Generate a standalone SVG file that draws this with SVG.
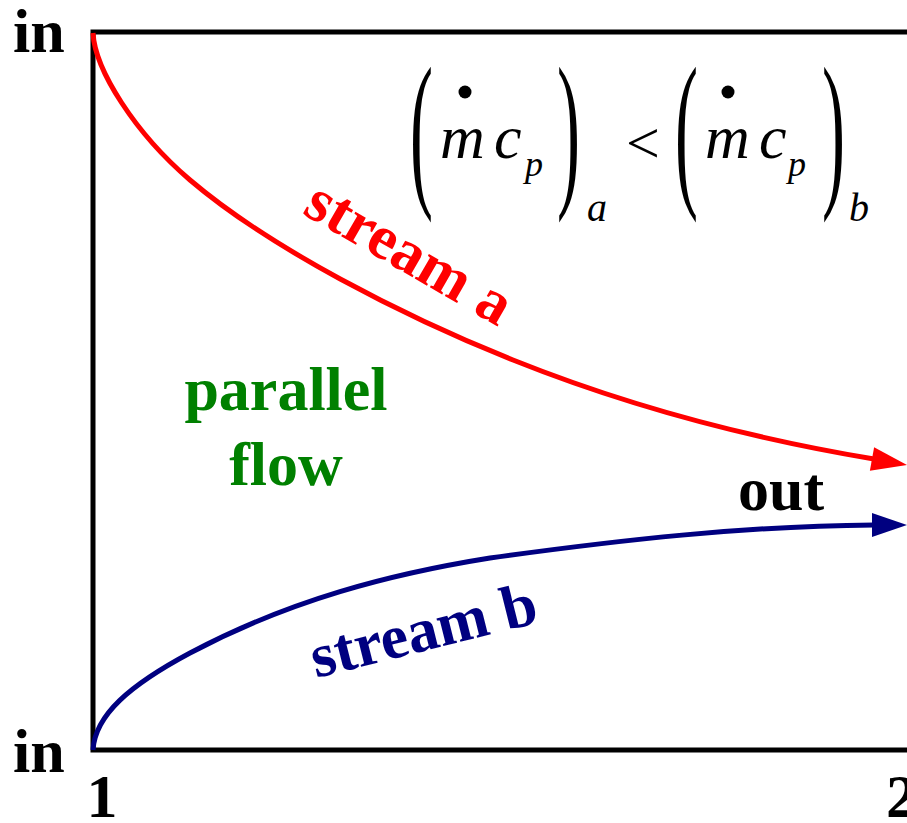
<svg xmlns="http://www.w3.org/2000/svg" width="907" height="823" viewBox="0 0 907 823">
<style>
.lbl{font-family:"Liberation Serif","Times New Roman",serif;font-weight:bold;font-size:62px}
.math{font-family:"Liberation Serif","Times New Roman",serif;font-style:italic}
.up{font-family:"Liberation Serif","Times New Roman",serif}
.frame{fill:none;stroke:#000;stroke-width:5;stroke-linecap:square}
.ca{fill:none;stroke:#ff0000;stroke-width:5}
.cb{fill:none;stroke:#000080;stroke-width:5}
</style>
<rect width="907" height="823" fill="#fff"/>
<g id="axes">
<path class="frame" d="M93,32 L93,750 L910,750 M93,32 L910,32"/>
</g>
<g id="connectors">
<path class="ca" d="M93,33 C95,70 135,133 190,180 C270,248 403,316 513,360 C633,408 754,439 874,459"/>
<polygon fill="#ff0000" points="874.1,447.2 907,465 869.9,470.8"/>
<path class="cb" d="M93,750 C95,715 130,685 190,653 C290,600 390,574 490,558 C620,540 744,526 874,525"/>
<polygon fill="#000080" points="872,513 907,525 872,537"/>
</g>
<g id="labels">
<text class="lbl" x="13" y="52">in</text>
<text class="lbl" x="13" y="772">in</text>
<text class="lbl" x="102" y="817" text-anchor="middle">1</text>
<text class="lbl" x="886" y="817">2</text>
<text class="lbl" x="738" y="510">out</text>
<text class="lbl" x="286" y="410" text-anchor="middle" fill="#008000">parallel</text>
<text class="lbl" x="286" y="485" text-anchor="middle" fill="#008000">flow</text>
<text class="lbl" fill="#ff0000" transform="translate(301,213) rotate(30)">stream a</text>
<text class="lbl" fill="#000080" transform="translate(316,678) rotate(-14)">stream b</text>
</g>
<g id="formula">
<text class="up" font-size="60" transform="translate(410,186) scale(1.15,2.87)">(</text>
<circle cx="465" cy="92" r="6.5" fill="#000"/>
<text class="math" font-size="62" x="440" y="158">m</text>
<text class="math" font-size="62" x="494" y="158">c</text>
<text class="math" font-size="36" x="525" y="176">p</text>
<text class="up" font-size="60" transform="translate(557,186) scale(1.15,2.87)">)</text>
<text class="math" font-size="40" x="587" y="221">a</text>
<text class="up" font-size="60" x="626" y="163">&lt;</text>
<text class="up" font-size="60" transform="translate(675,186) scale(1.15,2.87)">(</text>
<circle cx="728" cy="92" r="6.5" fill="#000"/>
<text class="math" font-size="62" x="705" y="158">m</text>
<text class="math" font-size="62" x="759" y="158">c</text>
<text class="math" font-size="36" x="788" y="176">p</text>
<text class="up" font-size="60" transform="translate(822,186) scale(1.15,2.87)">)</text>
<text class="math" font-size="40" x="849" y="221">b</text>
</g>
</svg>
